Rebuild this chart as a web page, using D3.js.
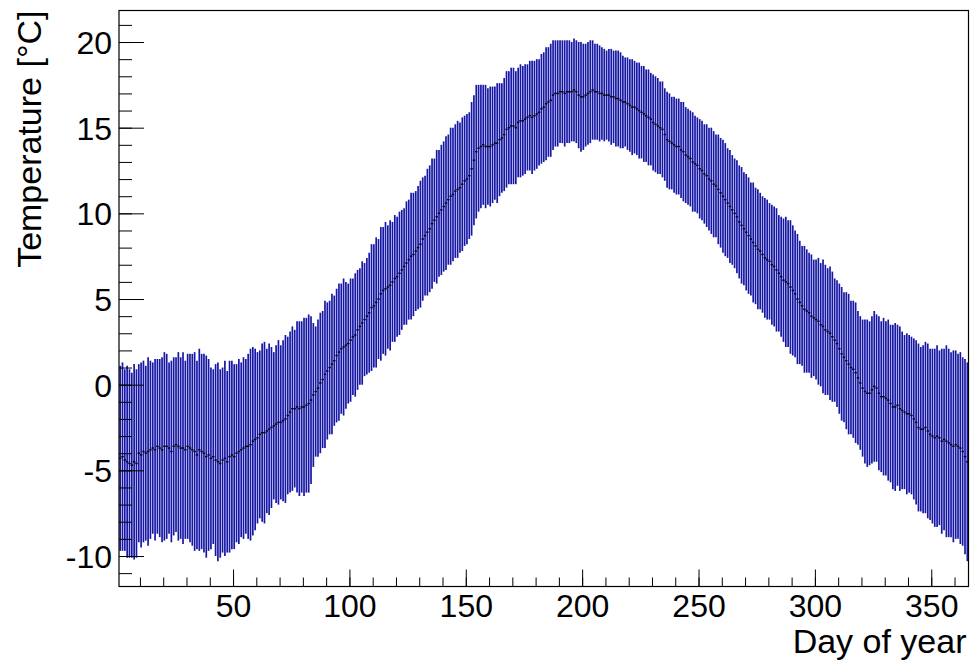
<!DOCTYPE html>
<html lang="en">
<head>
    <meta charset="UTF-8">
    <title>Temperature profile</title>
    <script src="https://d3js.org/d3.v7.min.js"></script>
    <style>
        body { margin: 0; background: #fff; }
        text { font-family: "Liberation Sans", Arial, Helvetica, sans-serif; }
    </style>
</head>
<body>
    <!-- Div id for the chart -->
    <div id="my_dataviz"></div>

    <script>

        // mean temperature per day of year (bins 1..365)
        var meanTemp = [
            -4.3, -4.2, -4.4, -4.5, -4.6, -4.7, -4.5, -4.6, -4.0, -4.1,
            -3.9, -4.0, -3.9, -3.8, -3.7, -3.8, -3.6, -3.7, -3.8, -3.6,
            -3.6, -3.7, -3.9, -3.6, -3.5, -3.6, -3.7, -3.7, -3.8, -3.6,
            -3.7, -3.8, -3.9, -4.1, -3.8, -3.9, -4.0, -4.2, -4.1, -4.3,
            -4.2, -4.4, -4.5, -4.6, -4.4, -4.3, -4.5, -4.2, -4.1, -4.2,
            -4.0, -3.9, -3.8, -3.7, -3.6, -3.6, -3.5, -3.3, -3.2, -3.1,
            -2.9, -2.8, -2.8, -2.7, -2.6, -2.5, -2.4, -2.3, -2.2, -2.2,
            -2.1, -2.0, -1.8, -1.6, -1.4, -1.4, -1.3, -1.4, -1.3, -1.3,
            -1.2, -1.1, -0.9, -0.6, -0.4, -0.2, 0.1, 0.3, 0.6, 0.8,
            1.0, 1.2, 1.4, 1.7, 1.9, 2.1, 2.2, 2.3, 2.4, 2.6,
            2.8, 2.9, 3.2, 3.4, 3.6, 3.8, 4.0, 4.2, 4.5, 4.6,
            4.8, 5.0, 5.3, 5.5, 5.6, 5.7, 5.8, 6.0, 6.2, 6.3,
            6.5, 6.7, 6.9, 7.1, 7.3, 7.5, 7.6, 7.8, 8.0, 8.2,
            8.5, 8.7, 8.9, 9.1, 9.4, 9.6, 9.8, 10.0, 10.2, 10.4,
            10.6, 10.8, 11.0, 11.1, 11.3, 11.4, 11.5, 11.7, 11.9, 12.0,
            12.2, 12.6, 13.1, 13.6, 13.8, 13.9, 14.0, 13.9, 13.9, 13.9,
            14.0, 14.1, 14.1, 14.3, 14.4, 14.6, 14.9, 15.0, 15.1, 15.1,
            15.0, 15.3, 15.4, 15.4, 15.5, 15.6, 15.7, 15.6, 15.7, 15.8,
            15.9, 16.1, 16.2, 16.4, 16.5, 16.6, 16.9, 17.0, 17.0, 17.1,
            17.1, 17.0, 17.1, 17.1, 17.1, 17.2, 17.1, 16.9, 16.8, 16.8,
            16.9, 17.0, 17.1, 17.2, 17.1, 17.1, 17.0, 17.0, 16.9, 16.9,
            16.9, 16.8, 16.8, 16.7, 16.7, 16.6, 16.5, 16.5, 16.4, 16.3,
            16.2, 16.2, 16.1, 16.0, 15.9, 15.8, 15.7, 15.6, 15.5, 15.3,
            15.2, 15.1, 15.0, 14.9, 14.6, 14.3, 14.2, 14.1, 14.0, 13.9,
            13.9, 13.7, 13.6, 13.4, 13.3, 13.2, 13.0, 12.9, 12.8, 12.6,
            12.5, 12.3, 12.2, 12.0, 11.9, 11.7, 11.6, 11.4, 11.2, 11.0,
            10.8, 10.6, 10.4, 10.2, 10.0, 9.8, 9.5, 9.3, 9.1, 8.9,
            8.7, 8.5, 8.3, 8.1, 7.9, 7.8, 7.6, 7.4, 7.3, 7.2,
            7.0, 6.9, 6.7, 6.5, 6.3, 6.1, 6.0, 5.9, 5.7, 5.5,
            5.3, 5.0, 4.8, 4.6, 4.4, 4.3, 4.2, 4.0, 3.9, 3.8,
            3.7, 3.5, 3.4, 3.2, 3.1, 3.0, 2.8, 2.6, 2.4, 2.1,
            1.8, 1.6, 1.4, 1.2, 1.0, 0.9, 0.7, 0.4, 0.1, -0.2,
            -0.4, -0.5, -0.5, -0.3, -0.1, -0.2, -0.5, -0.7, -0.7, -0.8,
            -0.9, -1.1, -1.3, -1.3, -1.2, -1.4, -1.5, -1.6, -1.7, -1.7,
            -1.8, -2.0, -2.2, -2.5, -2.6, -2.6, -2.5, -2.7, -2.9, -3.0,
            -3.1, -3.0, -3.1, -3.3, -3.2, -3.3, -3.4, -3.5, -3.6, -3.5,
            -3.6, -3.7, -3.9, -4.2, -4.5
        ];

        // spread (half length of the error bar) per day
        var spreadTemp = [
            5.4, 5.5, 5.3, 5.6, 5.5, 5.4, 5.7, 5.5, 5.2, 5.4,
            5.3, 5.1, 5.5, 5.2, 5.0, 5.3, 5.1, 5.2, 5.4, 5.5,
            5.4, 5.0, 5.3, 5.2, 5.1, 5.5, 5.3, 5.6, 5.2, 5.4,
            5.5, 5.6, 5.8, 5.5, 5.9, 5.7, 5.8, 5.9, 5.6, 5.3,
            5.1, 5.6, 5.8, 5.5, 5.4, 5.7, 5.3, 5.6, 5.5, 5.4,
            5.2, 5.4, 5.1, 5.3, 5.1, 5.4, 5.6, 5.5, 5.3, 5.0,
            4.9, 5.2, 5.3, 4.8, 5.0, 4.7, 4.3, 4.6, 4.8, 4.5,
            4.7, 4.9, 4.6, 4.7, 4.8, 4.6, 5.0, 5.1, 5.0, 5.2,
            5.1, 5.2, 4.9, 4.2, 3.8, 4.0, 4.1, 4.0, 4.3, 4.0,
            3.9, 4.1, 3.8, 3.9, 4.0, 3.8, 4.0, 3.7, 3.5, 3.6,
            3.4, 3.6, 3.5, 3.4, 3.6, 3.3, 3.4, 3.5, 3.7, 3.6,
            3.8, 3.5, 3.9, 3.7, 3.9, 3.6, 3.8, 3.5, 3.7, 3.5,
            3.6, 3.5, 3.4, 3.6, 3.5, 3.7, 3.6, 3.5, 3.6, 3.7,
            3.6, 3.5, 3.7, 3.7, 3.8, 3.6, 3.9, 3.7, 3.8, 3.8,
            3.9, 3.8, 4.0, 3.9, 3.9, 4.0, 3.8, 3.9, 3.8, 3.8,
            3.7, 3.9, 3.8, 3.9, 3.7, 3.6, 3.5, 3.6, 3.4, 3.5,
            3.4, 3.3, 3.5, 3.3, 3.2, 3.3, 3.4, 3.3, 3.4, 3.4,
            3.3, 3.2, 3.3, 3.2, 3.2, 3.1, 3.2, 3.3, 3.2, 3.2,
            3.1, 3.2, 3.2, 3.3, 3.2, 3.3, 3.2, 3.1, 3.1, 3.0,
            3.0, 3.1, 3.0, 3.0, 2.9, 3.0, 3.0, 3.1, 3.2, 3.1,
            3.0, 3.0, 3.0, 2.9, 2.8, 2.8, 2.8, 2.7, 2.7, 2.6,
            2.7, 2.8, 2.7, 2.8, 2.8, 2.8, 2.7, 2.6, 2.7, 2.7,
            2.8, 2.7, 2.7, 2.8, 2.7, 2.8, 2.7, 2.8, 2.7, 2.8,
            2.8, 2.8, 2.7, 2.8, 2.7, 2.8, 2.8, 2.7, 2.8, 2.8,
            2.8, 2.8, 2.9, 2.8, 2.8, 2.8, 2.9, 2.8, 2.8, 2.9,
            2.9, 2.9, 3.0, 3.0, 3.1, 3.1, 3.0, 3.2, 3.2, 3.3,
            3.3, 3.2, 3.3, 3.2, 3.2, 3.3, 3.3, 3.4, 3.3, 3.4,
            3.4, 3.3, 3.5, 3.4, 3.5, 3.4, 3.4, 3.5, 3.5, 3.4,
            3.5, 3.5, 3.6, 3.4, 3.5, 3.6, 3.8, 3.7, 3.9, 3.8,
            3.7, 3.8, 3.6, 3.5, 3.7, 3.6, 3.5, 3.6, 3.4, 3.5,
            3.7, 3.6, 3.9, 3.8, 3.7, 3.9, 3.8, 3.6, 3.7, 3.8,
            3.9, 3.8, 4.0, 4.1, 3.9, 4.0, 4.1, 3.9, 3.9, 4.0,
            4.2, 4.3, 4.2, 4.3, 4.4, 4.3, 4.5, 4.4, 4.6, 4.5,
            4.7, 4.6, 4.8, 4.9, 4.7, 4.8, 4.6, 4.5, 4.7, 4.6,
            4.6, 4.7, 4.8, 4.9, 4.8, 4.9, 5.0, 5.1, 5.0, 5.1,
            5.2, 5.3, 5.1, 5.4, 5.3, 5.6, 5.5, 5.4, 5.6, 5.5,
            5.4, 5.6, 5.5, 5.7, 5.8
        ];

        // tick values
        var xMajorTicks = [50, 100, 150, 200, 250, 300, 350];
        var yMajorTicks = [-10, -5, 0, 5, 10, 15, 20];

        // one row per day (bin 1 .. 365)
        var data = meanTemp.map(function (m, i) {
            return { day: i + 1, mean: m, spread: spreadTemp[i] };
        });

        // set the dimensions and margins of the frame
        var margin = { top: 10.5, right: 2.5, bottom: 75.5, left: 119 },
            width = 971 - margin.left - margin.right,
            height = 662 - margin.top - margin.bottom;

        var svg = d3.select("#my_dataviz")
            .append("svg")
            .attr("width", 971)
            .attr("height", 662)
            .append("g")
            .attr("transform", "translate(" + margin.left + "," + margin.top + ")");

        // scales
        var x = d3.scaleLinear().domain([1, 366]).range([0, width]);
        var y = d3.scaleLinear().domain([-11.78, 21.84]).range([height, 0]);

        // plain hyphen for negative labels, like the original
        var plainFormat = function (d) { return String(d); };

        // error bars
        svg.append("g")
            .selectAll("line")
            .data(data)
            .enter()
            .append("line")
            .attr("x1", function (d) { return x(d.day + 0.5); })
            .attr("x2", function (d) { return x(d.day + 0.5); })
            .attr("y1", function (d) { return y(d.mean + d.spread); })
            .attr("y2", function (d) { return y(d.mean - d.spread); })
            .attr("stroke", "#1717a6")
            .attr("stroke-width", 1.7);

        // mean markers
        svg.append("g")
            .selectAll("line")
            .data(data)
            .enter()
            .append("line")
            .attr("x1", function (d) { return x(d.day + 0.5) - 1.2; })
            .attr("x2", function (d) { return x(d.day + 0.5) + 1.2; })
            .attr("y1", function (d) { return y(d.mean); })
            .attr("y2", function (d) { return y(d.mean); })
            .attr("stroke", "#000")
            .attr("stroke-width", 1.4);

        // X axis: major and minor ticks pointing inward
        var xMinor = d3.range(10, 366, 10);
        svg.append("g")
            .attr("transform", "translate(0," + height + ")")
            .call(d3.axisBottom(x).tickValues(xMinor).tickSize(-9).tickSizeOuter(0).tickFormat(""))
            .call(function (g) { g.select(".domain").remove(); });
        svg.append("g")
            .attr("transform", "translate(0," + height + ")")
            .call(d3.axisBottom(x).tickValues(xMajorTicks).tickSize(-17).tickSizeOuter(0).tickPadding(8).tickFormat(plainFormat))
            .call(function (g) { g.select(".domain").remove(); })
            .selectAll("text")
            .style("font-size", "32px")
            .attr("fill", "#000");

        // Y axis: major and minor ticks
        var yMinor = d3.range(-11, 22, 1);
        svg.append("g")
            .call(d3.axisLeft(y).tickValues(yMinor).tickSize(-13).tickSizeOuter(0).tickFormat(""))
            .call(function (g) { g.select(".domain").remove(); });
        svg.append("g")
            .call(d3.axisLeft(y).tickValues(yMajorTicks).tickSize(-25).tickSizeOuter(0).tickPadding(7).tickFormat(plainFormat))
            .call(function (g) { g.select(".domain").remove(); })
            .selectAll("text")
            .style("font-size", "32px")
            .attr("dy", "0.36em")
            .attr("fill", "#000");

        svg.selectAll(".tick line").attr("stroke", "#000");

        // frame
        svg.append("rect")
            .attr("width", width)
            .attr("height", height)
            .attr("fill", "none")
            .attr("stroke", "#000")
            .attr("stroke-width", 1.2);

        // axis titles
        svg.append("text")
            .attr("x", width - 2)
            .attr("y", height + 66)
            .attr("text-anchor", "end")
            .style("font-size", "34px")
            .text("Day of year");

        svg.append("text")
            .attr("transform", "translate(" + (41 - margin.left) + ",0) rotate(-90)")
            .attr("text-anchor", "end")
            .style("font-size", "34px")
            .text("Temperature [°C]");

    </script>
</body>
</html>
